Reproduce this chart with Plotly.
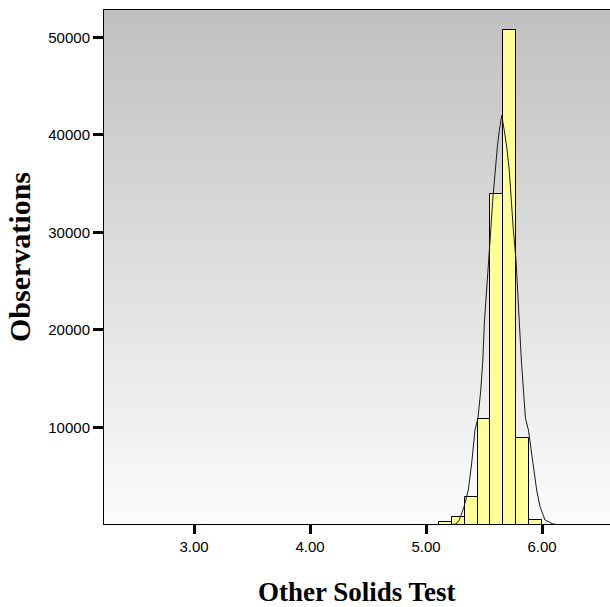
import plotly.graph_objects as go

# Histogram bins (bin width 1/9) - centers and counts
bin_centers = [5.1667, 5.2778, 5.3889, 5.5000, 5.6111, 5.7222, 5.8333, 5.9444]
bin_counts = [270, 840, 2830, 10880, 33980, 50780, 8870, 470]
bin_width = 1 / 9

# Fitted normal curve
curve_x = [5.20, 5.259, 5.287, 5.328, 5.365, 5.394, 5.422, 5.448, 5.472, 5.490, 5.503,
           5.519, 5.541, 5.558, 5.575, 5.595, 5.615, 5.632, 5.653, 5.675, 5.696,
           5.718, 5.733, 5.753, 5.776, 5.788, 5.805, 5.822, 5.840, 5.857, 5.883,
           5.925, 5.954, 5.983, 6.026, 6.095, 6.15]
curve_y = [0, 90, 500, 1865, 3576, 6342, 9724, 10950, 13820, 16900, 20690,
           23800, 27140, 30220, 33290, 36360, 38750, 40450, 42000, 40450, 38750,
           36360, 33650, 30220, 27140, 24000, 20690, 16900, 13820, 10950, 9724,
           6342, 3576, 1865, 500, 90, 0]

x_ticks = [3, 4, 5, 6]
x_ticklabels = ["3.00", "4.00", "5.00", "6.00"]
y_ticks = [10000, 20000, 30000, 40000, 50000]
y_ticklabels = ["10000", "20000", "30000", "40000", "50000"]

fig = go.Figure()
fig.add_trace(go.Bar(
    x=bin_centers, y=bin_counts, width=bin_width,
    marker=dict(color="#FFFF99", line=dict(color="#000000", width=1)),
    showlegend=False, hoverinfo="skip"))
fig.add_trace(go.Scatter(
    x=curve_x, y=curve_y, mode="lines",
    line=dict(color="#1a1a1a", width=1),
    showlegend=False, hoverinfo="skip"))

# vertical gradient background
n = 120
shapes = []
for i in range(n):
    f0 = i / n
    f1 = (i + 1) / n
    v = round(252 - 60 * (f0 + f1) / 2)
    shapes.append(dict(type="rect", xref="x domain", yref="y domain",
                       x0=0, x1=1, y0=f0, y1=f1 + 0.002, layer="below",
                       line=dict(width=0), fillcolor=f"rgb({v},{v},{v})"))

tick_font = dict(family="Liberation Sans, Arial, sans-serif", size=15, color="#000000")
xtitle_font = dict(family="Liberation Serif, Times New Roman, serif", size=27, color="#000000")
ytitle_font = dict(family="Liberation Serif, Times New Roman, serif", size=30, color="#000000")

fig.update_layout(
    width=610, height=607,
    margin=dict(l=104, r=0, t=10, b=83),
    paper_bgcolor="#ffffff", plot_bgcolor="#ffffff",
    shapes=shapes,
    bargap=0,
    xaxis=dict(range=[2.2241, 6.5862], tickvals=x_ticks, ticktext=x_ticklabels,
               ticks="outside", ticklen=9, tickwidth=3, tickcolor="#000000",
               showline=True, linecolor="#000000", linewidth=1, mirror=True,
               showgrid=False, zeroline=False, tickfont=tick_font),
    yaxis=dict(range=[90, 52820], tickvals=y_ticks, ticktext=y_ticklabels,
               ticks="outside", ticklen=10, tickwidth=3, tickcolor="#000000",
               showline=True, linecolor="#000000", linewidth=1,
               showgrid=False, zeroline=False, tickfont=tick_font),
    annotations=[
        dict(text="<b>Other Solids Test</b>", xref="paper", yref="paper",
             x=0.5, y=-0.132, xanchor="center", yanchor="middle",
             showarrow=False, font=xtitle_font),
        dict(text="<b>Observations</b>", xref="paper", yref="paper",
             x=-0.166, y=0.5195, xanchor="center", yanchor="middle", textangle=-90,
             showarrow=False, font=ytitle_font),
    ],
)

fig.write_html("out.html")
